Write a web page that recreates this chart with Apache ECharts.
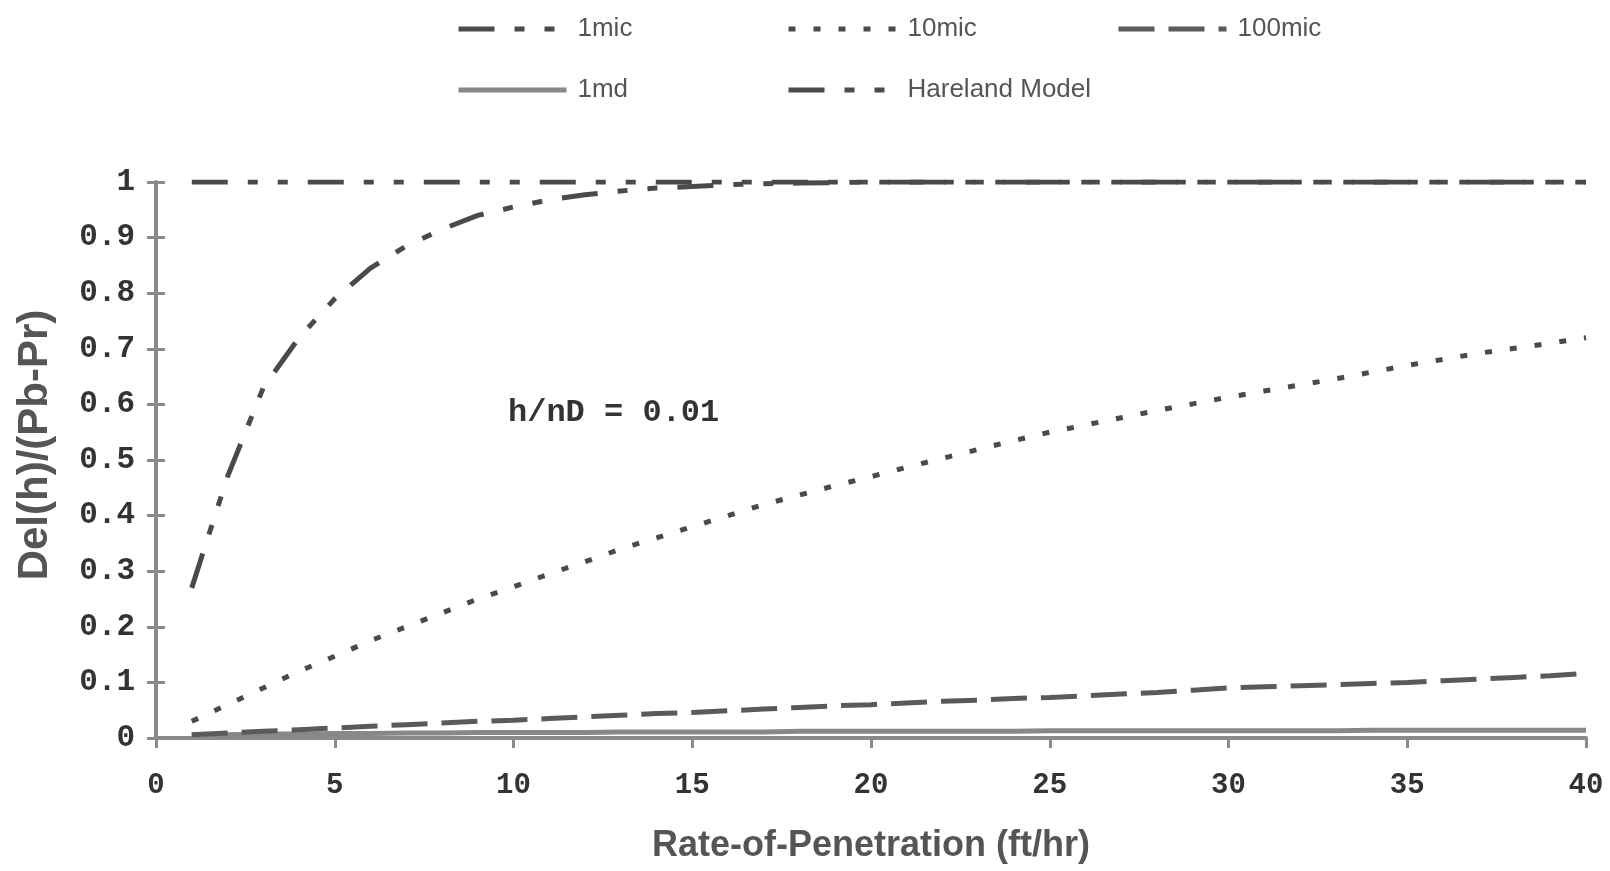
<!DOCTYPE html>
<html><head><meta charset="utf-8">
<script src="https://cdn.jsdelivr.net/npm/echarts@6/dist/echarts.min.js"></script>
<style>html,body{margin:0;padding:0;background:#fff}#c{width:1610px;height:871px}</style>
</head><body><div id="c"></div>
<script>
const rop = [1,2,3,4,5,6,7,8,9,10,11,12,13,14,15,16,17,18,19,20,21,22,23,24,25,26,27,28,29,30,31,32,33,34,35,36,37,38,39,40];
const mic1 = [0.27,0.47,0.63,0.72,0.79,0.845,0.885,0.915,0.94,0.955,0.968,0.977,0.984,0.989,0.992,0.995,0.997,0.998,0.999,1,1,1,1,1,1,1,1,1,1,1,1,1,1,1,1,1,1,1,1,1];
const mic10 = [0.03,0.06,0.09,0.12,0.147,0.175,0.2,0.225,0.25,0.272,0.295,0.317,0.34,0.36,0.38,0.4,0.42,0.437,0.454,0.47,0.487,0.503,0.519,0.535,0.55,0.563,0.576,0.589,0.601,0.613,0.624,0.635,0.646,0.658,0.67,0.681,0.692,0.701,0.71,0.72];
const mic100 = [0.006,0.009,0.012,0.015,0.018,0.021,0.024,0.027,0.03,0.032,0.035,0.038,0.041,0.044,0.046,0.049,0.052,0.055,0.058,0.06,0.063,0.066,0.068,0.071,0.073,0.076,0.079,0.082,0.086,0.09,0.092,0.094,0.096,0.098,0.1,0.103,0.106,0.109,0.112,0.116];
const md1 = [0.006,0.006,0.007,0.007,0.008,0.008,0.009,0.009,0.01,0.01,0.01,0.01,0.011,0.011,0.011,0.011,0.011,0.012,0.012,0.012,0.012,0.012,0.012,0.012,0.013,0.013,0.013,0.013,0.013,0.013,0.013,0.013,0.013,0.014,0.014,0.014,0.014,0.014,0.014,0.014];
const hareland = [1,1,1,1,1,1,1,1,1,1,1,1,1,1,1,1,1,1,1,1,1,1,1,1,1,1,1,1,1,1,1,1,1,1,1,1,1,1,1,1];
const seriesNames = ['1mic','10mic','100mic','1md','Hareland Model'];
const xTitle = 'Rate-of-Penetration (ft/hr)';
const yTitle = 'Del(h)/(Pb-Pr)';
const note = 'h/nD = 0.01';

const pair = ys => rop.map((x,i)=>[x, ys[i]]);
const dark = '#4a4a4a', axisC = '#8a8a8a';
const mono = '"Liberation Mono", "DejaVu Sans Mono", monospace';
const sans = '"Liberation Sans", Arial, sans-serif';
const dashDotDot = [36,20,10,20,10,20];

function mk(name, data, color, type, width, z){
  return {name, type:'line', data:pair(data), symbol:'none', smooth:false, z,
    lineStyle:{color, width, type}, itemStyle:{color}, xAxisIndex:0, yAxisIndex:0};
}
const legendPos = [
  {name:'1mic', left:451, top:11},
  {name:'10mic', left:781, top:11},
  {name:'100mic', left:1111, top:11},
  {name:'1md', left:451, top:72},
  {name:'Hareland Model', left:781, top:72}
];
const chart = echarts.init(document.getElementById('c'));
chart.setOption({
  animation:false,
  backgroundColor:'#fff',
  legend: legendPos.map(p=>({data:[p.name], left:p.left, top:p.top, itemWidth:108, itemHeight:30, itemGap:0,
    itemStyle:{opacity:0}, lineStyle:{width:5},
    textStyle:{fontFamily:sans, fontSize:26, color:'#555', padding:[0,0,0,6]}})),
  grid:{left:156, right:24, top:182, bottom:133, containLabel:false},
  xAxis:[{type:'value', min:0, max:40, interval:5,
    name:xTitle, nameLocation:'middle', nameGap:90,
    nameTextStyle:{fontFamily:sans, fontWeight:'bold', fontSize:36, color:'#555'},
    axisLine:{lineStyle:{color:axisC, width:4}},
    axisTick:{length:10, lineStyle:{color:axisC, width:3}},
    axisLabel:{fontFamily:mono, fontWeight:'bold', fontSize:29, color:'#333', margin:33},
    splitLine:{show:false}}],
  yAxis:[{type:'value', min:0, max:1, interval:0.1,
    axisLine:{lineStyle:{color:axisC, width:4}},
    axisTick:{length:9, lineStyle:{color:axisC, width:3}},
    axisLabel:{fontFamily:mono, fontWeight:'bold', fontSize:31, color:'#333', margin:21,
      formatter:v=>String(Math.round(v*10)/10)},
    splitLine:{show:false}},
   {type:'value', min:0, max:1, interval:0.1, position:'left',
    axisLine:{show:false}, axisTick:{inside:true, length:9, lineStyle:{color:axisC, width:3}},
    axisLabel:{show:false}, splitLine:{show:false}}],
  graphic:[
    {type:'text', left:508, top:397, style:{text:note, font:'bold 32px '+mono, fill:'#333'}},
    {type:'text', x:35, y:445, rotation:Math.PI/2,
      style:{text:yTitle, font:'bold 42px '+sans, fill:'#555', align:'center', verticalAlign:'middle'}}
  ],
  series:[
    mk('1mic', mic1, dark, dashDotDot, 5, 5),
    mk('10mic', mic10, dark, [7,18], 5, 5),
    mk('100mic', mic100, '#5a5a5a', [36,14], 5, 4),
    mk('1md', md1, '#888', 'solid', 5, 3),
    mk('Hareland Model', hareland, dark, dashDotDot, 5, 4)
  ]
});
</script></body></html>
